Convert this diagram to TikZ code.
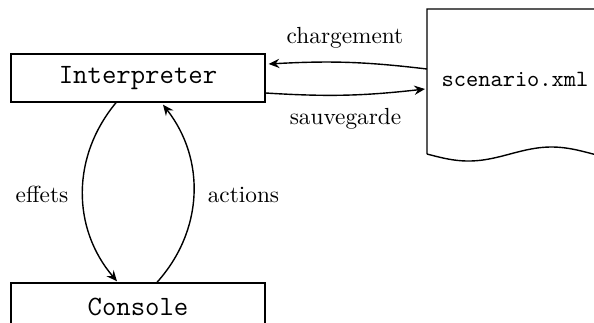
\documentclass[tikz,border=0pt]{standalone}
\usetikzlibrary{arrows.meta,calc}
\begin{document}
\begin{tikzpicture}[x=0.4292pt,y=-0.4292pt,
  box/.style={draw,line width=0.6pt,minimum width=109pt,minimum height=20.6pt,inner sep=0pt,font=\large\ttfamily},
  lbl/.style={anchor=base,inner sep=0pt},
  conn/.style={line width=0.6pt,-{Stealth[length=4.6pt,width=4pt,inset=1.6pt]}}]
\useasboundingbox (0,0) rectangle (594,322);
\clip (0,0) rectangle (594,322);
\node[box] (interp) at (138,78) {Interpreter};
\node[box] (cons) at (138,307) {Console};
% document shape
\draw[line width=0.6pt] (640,9) -- (427,9) -- (427,154)
  plot[domain=0:213,samples=80,smooth] ({427+\x},{154+7*sin(2.1687*\x)});
\node[lbl,font=\ttfamily] (doc) at (515,86) {scenario.xml};
\coordinate (docA) at (427,69);
\coordinate (docB) at (425,89);
\draw[conn] (docA) to[bend right=5] ($(interp.east)+(3,-14)$);
\draw[conn] ($(interp.east)+(0,15)$) to[bend right=5] (docB);
\draw[conn] ($(interp.south)+(-22,0)$) to[bend right=40] ($(cons.north)+(-21,-1)$);
\draw[conn] ($(cons.north)+(19,0)$) to[bend right=40] ($(interp.south)+(25,2)$);
\node[lbl] (lc) at (345,43.3) {chargement};
\node[lbl] (ls) at (345.5,124) {sauvegarde};
\node[lbl] (le) at (42,202.7) {effets};
\node[lbl] (la) at (243.5,202.7) {actions};
\end{tikzpicture}
\end{document}
